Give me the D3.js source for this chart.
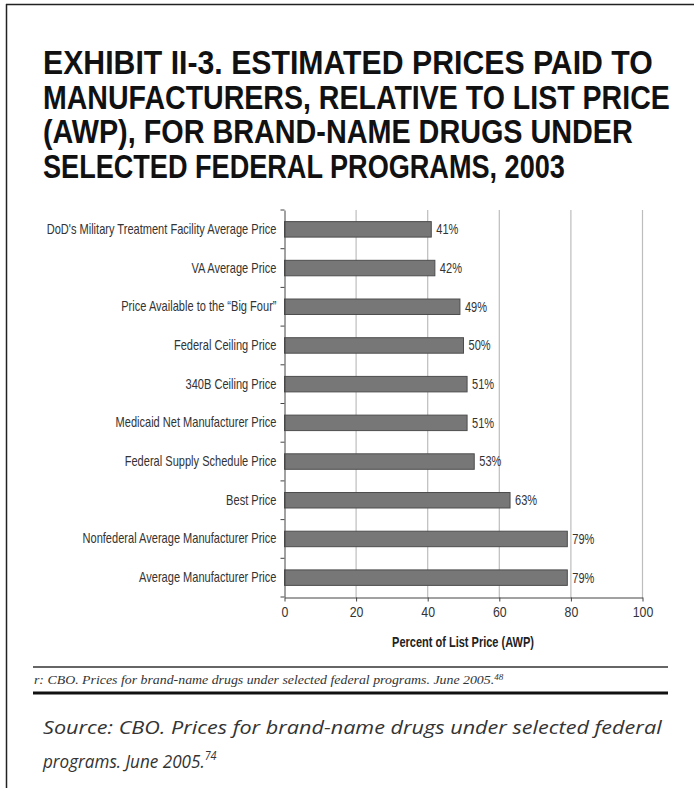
<!DOCTYPE html>
<html><head><meta charset="utf-8">
<script src="https://cdn.jsdelivr.net/npm/d3@7"></script>
<style>
html,body{margin:0;padding:0;background:#fff;}
svg{display:block;}
</style></head>
<body>
<svg id="chart" width="694" height="788"></svg>
<script>
const titleLines = [
  "EXHIBIT II-3. ESTIMATED PRICES PAID TO",
  "MANUFACTURERS, RELATIVE TO LIST PRICE",
  "(AWP), FOR BRAND-NAME DRUGS UNDER",
  "SELECTED FEDERAL PROGRAMS, 2003"
];
const categories = [
  "DoD's Military Treatment Facility Average Price",
  "VA Average Price",
  "Price Available to the \u201CBig Four\u201D",
  "Federal Ceiling Price",
  "340B Ceiling Price",
  "Medicaid Net Manufacturer Price",
  "Federal Supply Schedule Price",
  "Best Price",
  "Nonfederal Average Manufacturer Price",
  "Average Manufacturer Price"
];
const values = [41, 42, 49, 50, 51, 51, 53, 63, 79, 79];
const xTicks = [0, 20, 40, 60, 80, 100];
const xAxisTitle = "Percent of List Price (AWP)";
const innerNote = "r: CBO. Prices for brand-name drugs under selected federal programs. June 2005.";
const innerNoteSup = "48";
const sourceLines = ["Source: CBO. Prices for brand-name drugs under selected federal", "programs. June 2005."];
const sourceSup = "74";

const svg = d3.select("#chart");
const sans = "'Liberation Sans',Arial,sans-serif";
const NARROW = 0.79;

function condense(sel, sx) {
  sel.each(function() {
    const t = d3.select(this);
    const x0 = +t.attr("x") || 0;
    t.attr("x", x0 / sx).attr("transform", `scale(${sx},1)`);
  });
}
function fitWidth(sel, target) {
  sel.each(function(d, i) {
    const t = d3.select(this);
    const w = this.getComputedTextLength();
    const tw = typeof target === "function" ? target(d, i) : target;
    const sx = tw / w;
    const x0 = +t.attr("x") || 0;
    t.attr("x", x0 / sx).attr("transform", `scale(${sx},1)`);
  });
}

// frame
svg.append("line").attr("x1",6).attr("x2",694).attr("y1",4.5).attr("y2",4.5).attr("stroke","#222").attr("stroke-width",1.5);
svg.append("line").attr("x1",6.5).attr("x2",6.5).attr("y1",4).attr("y2",788).attr("stroke","#222").attr("stroke-width",1.5);

// title
const titleWidths = [610, 627, 590, 522];
svg.append("g").selectAll("text").data(titleLines).join("text")
  .attr("x", 43).attr("y", (d,i)=>74 + i*34.7)
  .attr("font-family", sans).attr("font-weight","bold").attr("font-size",33)
  .attr("fill","#111")
  .text(d=>d)
  .call(fitWidth, (d,i)=>titleWidths[i]);

// chart
const x = d3.scaleLinear().domain([0,100]).range([284.5, 642.5]);
const y = d3.scaleBand().domain(categories).range([210, 597]).paddingInner(0.6).paddingOuter(0.3);
const yb = d3.scaleBand().domain(categories).range([210, 597]);

const g = svg.append("g");
g.selectAll("line.grid").data(xTicks.slice(1)).join("line")
  .attr("class","grid")
  .attr("x1",d=>x(d)).attr("x2",d=>x(d)).attr("y1",210).attr("y2",597.5)
  .attr("stroke","#bdbdbd").attr("stroke-width",1.2);

g.selectAll("rect.bar").data(values).join("rect")
  .attr("class","bar")
  .attr("x", x(0)).attr("y",(d,i)=>y(categories[i]))
  .attr("width", d=>x(d)-x(0)).attr("height", y.bandwidth())
  .attr("fill","#777").attr("stroke","#4d4d4d").attr("stroke-width",1);

g.selectAll("text.val").data(values).join("text")
  .attr("class","val")
  .attr("x", d=>x(d)+5).attr("y",(d,i)=>y(categories[i])+y.bandwidth()/2)
  .attr("dy","0.35em")
  .attr("font-family",sans).attr("font-size",14).attr("fill","#333")
  .text(d=>d+"%")
  .call(condense, NARROW);

const yAxis = d3.axisLeft(yb).tickSize(0).tickPadding(8);
const ya = g.append("g").attr("transform",`translate(${x(0)},0)`).call(yAxis);
ya.select(".domain").attr("stroke","#444");
ya.selectAll(".tick text").attr("font-family",sans).attr("font-size",14).attr("fill","#333")
  .call(condense, NARROW);
g.selectAll("line.btick").data(d3.range(categories.length+1)).join("line")
  .attr("class","btick")
  .attr("x1",x(0)-4).attr("x2",x(0)).attr("y1",i=>210+i*yb.step()).attr("y2",i=>210+i*yb.step())
  .attr("stroke","#444");

const xAxis = d3.axisBottom(x).tickValues(xTicks).tickSize(4).tickPadding(6).tickSizeOuter(0);
const xa = g.append("g").attr("transform","translate(0,597.5)").call(xAxis);
xa.select(".domain").attr("stroke","#444");
xa.selectAll(".tick line").attr("stroke","#444");
xa.selectAll(".tick text").attr("font-family",sans).attr("font-size",14).attr("fill","#333")
  .call(condense, 0.88);

g.append("text").attr("x",463).attr("y",647).attr("text-anchor","middle")
  .attr("font-family",sans).attr("font-weight","bold").attr("font-size",14.5).attr("fill","#222")
  .text(xAxisTitle)
  .call(fitWidth, 142);

// footer rules
svg.append("line").attr("x1",33).attr("x2",668).attr("y1",667).attr("y2",667).attr("stroke","#333").attr("stroke-width",1.6);
svg.append("line").attr("x1",33).attr("x2",668).attr("y1",693).attr("y2",693).attr("stroke","#111").attr("stroke-width",3);

const note = svg.append("text").attr("x",34).attr("y",684)
  .attr("font-family","'Liberation Serif','DejaVu Serif',serif").attr("font-style","italic").attr("font-size",11.5).attr("fill","#333");
note.append("tspan").text(innerNote);
note.append("tspan").attr("font-size",7.5).attr("dy",-4).text(innerNoteSup);
note.call(fitWidth, 470);

const src = svg.append("g");
src.append("text").attr("x",43).attr("y",734)
  .attr("font-family","'Open Sans','Noto Sans',sans-serif").attr("font-style","italic").attr("font-size",19).attr("fill","#333")
  .text(sourceLines[0])
  .call(fitWidth, 619);
const s2 = src.append("text").attr("x",43).attr("y",768)
  .attr("font-family","'Open Sans','Noto Sans',sans-serif").attr("font-style","italic").attr("font-size",19).attr("fill","#333");
s2.append("tspan").text(sourceLines[1]);
s2.append("tspan").attr("font-size",12).attr("dy",-8).text(sourceSup);
s2.call(condense, 0.9);
</script>
</body></html>
